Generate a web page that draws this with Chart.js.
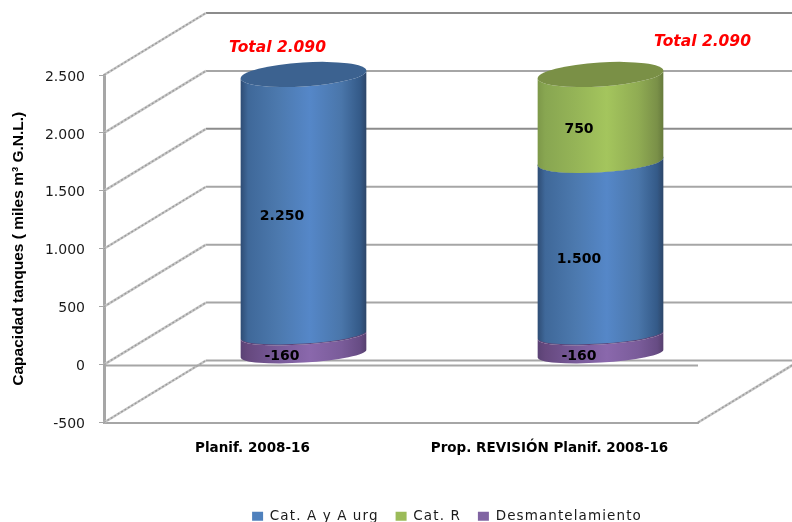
<!DOCTYPE html>
<html>
<head>
<meta charset="utf-8">
<title>Capacidad tanques</title>
<script src="https://cdn.jsdelivr.net/npm/chart.js@4/dist/chart.umd.min.js"></script>
<style>
html, body { margin: 0; padding: 0; background: #fff; }
#wrap { width: 792px; height: 522px; }
</style>
</head>
<body>
<div id="wrap"><canvas id="tank-chart"></canvas></div>
<script>
var categories = ["Planif. 2008-16", "Prop. REVISIÓN Planif. 2008-16"];
var catA = [2250, 1500];
var catR = [0, 750];
var desmantelamiento = [-160, -160];
var totals = [2090, 2090];
var yTicks = [-500, 0, 500, 1000, 1500, 2000, 2500];

var GREY = '#a6a6a6';
var FONT = '"DejaVu Sans", Verdana, sans-serif';

// depth of the 3d box, and of the plane the cylinders stand in
var boxDepth = { x: 102, y: -62 };
var barDepth = { x: 51, y: -29.5 };

// shading across each cylinder, left to right
var shades = {
    a: { top: '#3c6290', stops: ['#2e4c74', '#3f6899', '#4c79ae', '#5587c8', '#4a76aa', '#345a88', '#2d4668'] },
    r: { top: '#7a9046', stops: ['#7d9849', '#88a651', '#95b457', '#a4c55d', '#90ac53', '#7a9048', '#667a3c'] },
    d: { top: '#5d4478', stops: ['#5a4274', '#66497f', '#785a99', '#8a68ac', '#7a5c9a', '#674c84', '#56406e'] }
};
var stopAt = [0, 0.06, 0.3, 0.55, 0.8, 0.95, 1];

function es(v) {
    return String(Math.abs(v)).replace(/\B(?=(\d{3})+$)/g, '.').replace(/^/, v < 0 ? '-' : '');
}

// ellipses flatten towards the floor of the box
function flatness(y) {
    return 9 + Math.max(0, 336 - y) * 3 / 263;
}

// ======
// one cylinder segment, drawn from a bar element
// ======
function drawSegment(ctx, el, shade) {
    var a = el.width / 2, rot = -3.6 * Math.PI / 180;
    var cx = el.x + barDepth.x;
    var yTop = Math.min(el.y, el.base) + barDepth.y;
    var yBot = Math.max(el.y, el.base) + barDepth.y;
    var bTop = flatness(yTop), bBot = flatness(yBot);
    var ex = a * Math.cos(rot), ey = a * Math.sin(rot);

    var g = ctx.createLinearGradient(cx - a, 0, cx + a, 0);
    shade.stops.forEach(function (c, i) { g.addColorStop(stopAt[i], c); });

    ctx.beginPath();
    ctx.moveTo(cx - ex, yTop - ey);
    ctx.lineTo(cx - ex, yBot - ey);
    ctx.ellipse(cx, yBot, a, bBot, rot, Math.PI, 0, true);
    ctx.lineTo(cx + ex, yTop + ey);
    ctx.ellipse(cx, yTop, a, bTop, rot, 0, Math.PI, false);
    ctx.closePath();
    ctx.fillStyle = g;
    ctx.fill();

    ctx.beginPath();
    ctx.ellipse(cx, yTop, a, bTop, rot, 0, Math.PI * 2);
    ctx.fillStyle = shade.top;
    ctx.fill();
}

function roughLine(ctx, x1, y1, x2, y2) {
    ctx.lineWidth = 2.6;
    ctx.strokeStyle = '#c6c6c6';
    ctx.beginPath();
    ctx.moveTo(x1, y1);
    ctx.lineTo(x2, y2);
    ctx.stroke();
    ctx.lineWidth = 1.4;
    ctx.strokeStyle = '#9c9c9c';
    ctx.setLineDash([2, 2]);
    ctx.stroke();
    ctx.setLineDash([]);
}

var cylinders = {
    id: 'cylinders',
    // walls and floor of the box, then the cylinders
    beforeDatasetsDraw: function (chart) {
        var ctx = chart.ctx, y = chart.scales.y, area = chart.chartArea;
        ctx.save();
        yTicks.forEach(function (v) {
            var py = y.getPixelForValue(v);
            ctx.lineWidth = 2;
            ctx.strokeStyle = v === 1500 || v === 2500 ? '#8c8c8c' : GREY;
            ctx.beginPath();
            ctx.moveTo(area.left + boxDepth.x, py + boxDepth.y);
            ctx.lineTo(chart.width, py + boxDepth.y);
            ctx.stroke();
            roughLine(ctx, area.left, py, area.left + boxDepth.x, py + boxDepth.y);
        });

        // floor edge on the right
        var floor = y.getPixelForValue(-500);
        roughLine(ctx, area.right, floor, area.right + boxDepth.x, floor + boxDepth.y);

        // zero line on the front plane
        var zero = y.getPixelForValue(0) + 1;
        ctx.lineWidth = 2;
        ctx.strokeStyle = GREY;
        ctx.beginPath();
        ctx.moveTo(area.left, zero);
        ctx.lineTo(area.right, zero);
        ctx.stroke();

        // bottom segment first so the upper ones cover its lid
        [[2, 'd'], [0, 'a'], [1, 'r']].forEach(function (s) {
            chart.getDatasetMeta(s[0]).data.forEach(function (el) {
                if (el.y === el.base) return;
                drawSegment(ctx, el, shades[s[1]]);
            });
        });
        ctx.restore();
    },
    // the flat bars are replaced by the cylinders above
    beforeDatasetDraw: function () {
        return false;
    },
    afterDatasetsDraw: function (chart) {
        var ctx = chart.ctx;
        ctx.save();
        ctx.textAlign = 'center';
        ctx.textBaseline = 'middle';
        ctx.fillStyle = '#000';
        ctx.font = 'bold 14px ' + FONT;
        chart.data.datasets.forEach(function (ds, i) {
            chart.getDatasetMeta(i).data.forEach(function (el, j) {
                if (!ds.data[j]) return;
                ctx.fillText(es(ds.data[j]), el.x + 29.5, (el.y + el.base) / 2 - 18);
            });
        });

        // totals above the cylinders
        ctx.fillStyle = '#ff0000';
        ctx.font = 'italic bold 15.5px ' + FONT;
        var first = chart.getDatasetMeta(0).data;
        ctx.fillText('Total ' + es(totals[0]), first[0].x + 25, 48);
        ctx.fillText('Total ' + es(totals[1]), first[1].x + 153, 42);
        ctx.restore();
    },
    // legend text is spaced out a little and sits low and to the right
    beforeLayout: function (chart) {
        var lg = chart.legend;
        if (!lg || lg._spaced) return;
        lg._spaced = true;
        var fit = lg.fit, draw = lg.draw;
        lg.fit = function () {
            chart.ctx.letterSpacing = '1.1px';
            fit.apply(lg, arguments);
            chart.ctx.letterSpacing = '0px';
        };
        lg.draw = function () {
            var ctx = chart.ctx;
            ctx.save();
            ctx.translate(98, 11);
            ctx.letterSpacing = '1.1px';
            draw.apply(lg, arguments);
            ctx.restore();
        };
    }
};

new Chart(document.getElementById('tank-chart'), {
    type: 'bar',
    plugins: [cylinders],
    data: {
        labels: categories,
        datasets: [
            { label: 'Cat. A y A urg', data: catA, backgroundColor: '#4f81bd' },
            { label: 'Cat. R', data: catR, backgroundColor: '#9bbb59' },
            { label: 'Desmantelamiento', data: desmantelamiento, backgroundColor: '#8064a2' }
        ]
    },
    options: {
        responsive: true,
        maintainAspectRatio: false,
        animation: false,
        layout: { padding: { top: 75, right: 94, left: 0, bottom: 0 } },
        datasets: { bar: { categoryPercentage: 0.424, barPercentage: 1 } },
        scales: {
            x: {
                stacked: true,
                afterFit: function (scale) { scale.height = 59; },
                grid: { display: false, drawTicks: false },
                border: { color: GREY, width: 2 },
                ticks: {
                    color: '#000',
                    padding: 18,
                    maxRotation: 0,
                    autoSkip: false,
                    font: { family: FONT, size: 13.5, weight: 'bold' }
                }
            },
            y: {
                stacked: true,
                min: -500,
                max: 2500,
                afterFit: function (scale) { scale.width = 104; },
                grid: { drawOnChartArea: false, tickLength: 5, color: GREY, tickWidth: 1 },
                border: { color: GREY, width: 3 },
                title: {
                    display: true,
                    text: 'Capacidad tanques ( miles m³ G.N.L.)',
                    color: '#000',
                    padding: { top: 9, bottom: 0 },
                    font: { family: '"Liberation Sans", sans-serif', size: 15.5, weight: 'bold' }
                },
                ticks: {
                    stepSize: 500,
                    color: '#1a1a1a',
                    padding: 14,
                    labelOffset: 2,
                    font: { family: FONT, size: 14 },
                    callback: function (v) { return es(v); }
                }
            }
        },
        plugins: {
            tooltip: { enabled: false },
            legend: {
                position: 'bottom',
                labels: {
                    color: '#1a1a1a',
                    boxWidth: 11,
                    boxHeight: 9,
                    padding: 17,
                    font: { family: FONT, size: 13.5 }
                }
            }
        }
    }
});
</script>
</body>
</html>
